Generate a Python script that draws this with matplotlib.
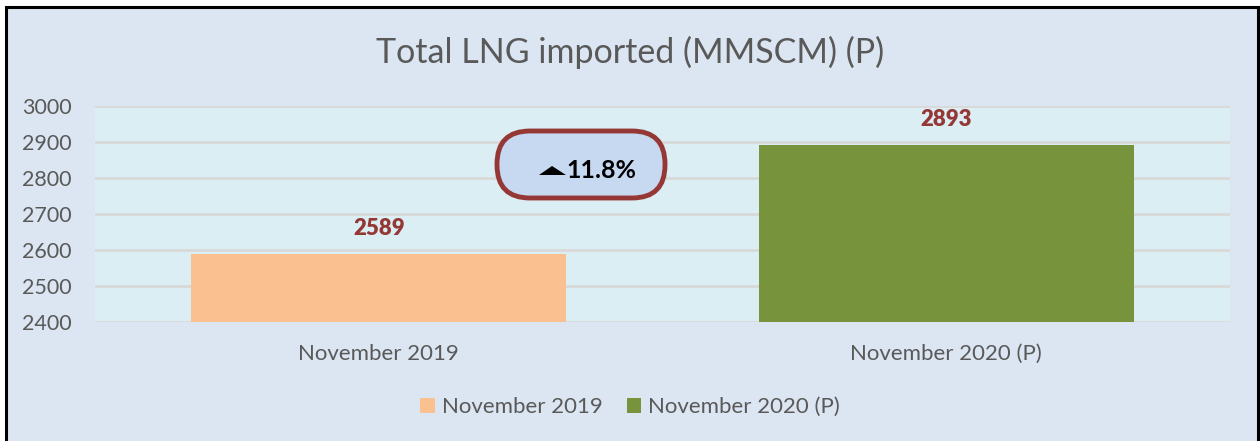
import matplotlib.pyplot as plt
from matplotlib.patches import Rectangle, FancyBboxPatch, Polygon
from matplotlib.transforms import IdentityTransform

plt.rcParams['font.family'] = ['Lato', 'DejaVu Sans']

# data
categories = ['November 2019', 'November 2020 (P)']
values = [2589, 2893]
bar_colors = ['#FAC090', '#77933C']
change_text = '11.8%'

fig = plt.figure(figsize=(12.6, 4.41), dpi=100, facecolor='white')

# outer chart frame (bottom edge runs off the image)
frame = Rectangle((6, -10), 1252, 441 - 7 + 10, transform=IdentityTransform(),
                  facecolor='#DCE6F2', edgecolor='black', linewidth=2.2, zorder=0)
fig.add_artist(frame)

ax = fig.add_axes([95 / 1260, 1 - 322 / 441, 1135 / 1260, 216 / 441])
ax.set_facecolor('#DAEEF3')

x = range(len(categories))
bars = ax.bar(x, values, width=0.66, color=bar_colors, zorder=3, label=categories)

ax.set_ylim(2400, 3000)
ax.set_xlim(-0.5, 1.5)
ax.set_yticks(range(2400, 3001, 100))
ax.set_xticks(list(x))
ax.set_xticklabels(categories)
ax.tick_params(axis='both', length=0, labelcolor='#595959')
ax.tick_params(axis='y', pad=17, labelsize=15.5)
ax.tick_params(axis='x', pad=16, labelsize=16)
ax.grid(axis='y', color='#D9D9D9', linewidth=2, zorder=1)
for s in ax.spines.values():
    s.set_visible(False)

for b, v in zip(bars, values):
    ax.annotate(str(v), (b.get_x() + b.get_width() / 2, v), xytext=(0, 18),
                textcoords='offset points', ha='center', va='center',
                fontsize=16, fontweight='heavy', color='#953735')

fig.text(0.5, 1 - 52 / 441, 'Total LNG imported (MMSCM) (P)', ha='center', va='center',
         fontsize=24.5, color='#595959')

# change badge
badge = FancyBboxPatch((497, 441 - 198), 168, 67, transform=IdentityTransform(),
                       boxstyle='round,pad=0,rounding_size=33',
                       facecolor='#C6D9F1', edgecolor='#953735', linewidth=3.5, zorder=5)
fig.add_artist(badge)
tri = Polygon([(539, 441 - 175), (566, 441 - 175), (552, 441 - 166)], closed=True,
              transform=IdentityTransform(), facecolor='black', edgecolor='none', zorder=6)
fig.add_artist(tri)
fig.text(566 / 1260, 1 - 171 / 441, change_text, ha='left', va='center',
         fontsize=18, fontweight='bold', color='black', zorder=7)

fig.legend(handles=bars, labels=categories, loc='center', bbox_to_anchor=(0.5, 1 - 407 / 441),
           ncol=2, frameon=False, fontsize=16, labelcolor='#595959',
           handlelength=0.65, handleheight=0.65, handletextpad=0.3, columnspacing=1.1)

fig.savefig('out.png', dpi=100, facecolor=fig.get_facecolor())
